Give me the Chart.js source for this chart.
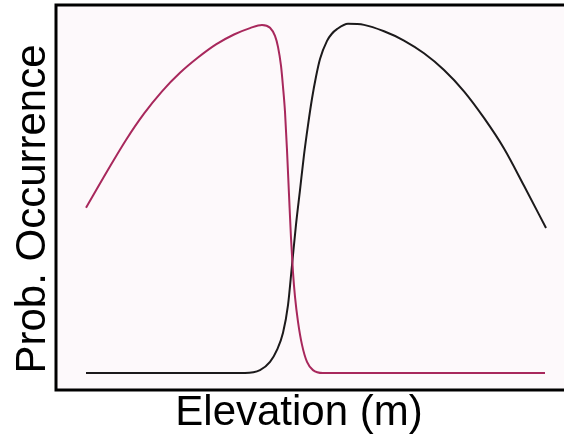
<!DOCTYPE html>
<html>
<head>
<meta charset="utf-8">
<script src="https://cdn.jsdelivr.net/npm/chart.js@4/dist/chart.umd.min.js"></script>
<style>
  html, body { margin: 0; padding: 0; background: #ffffff; }
  #wrap { width: 564px; height: 437px; position: relative; }
</style>
</head>
<body>
<div id="wrap"><canvas id="c" width="564" height="437"></canvas></div>
<script>
// Elevation positions (relative units, 0-100) and probabilities of occurrence
const lowSpeciesX = [5.91, 10.24, 13.78, 17.32, 20.87, 24.41, 27.95, 31.50, 35.04, 38.19, 40.55, 42.13, 43.11, 43.70, 44.29, 44.69, 45.08, 45.47, 45.87, 46.26, 46.65, 47.05, 47.64, 48.43, 49.41, 50.59, 52.56, 96.26];
const lowSpeciesY = [0.465, 0.572, 0.656, 0.730, 0.793, 0.845, 0.888, 0.925, 0.953, 0.971, 0.980, 0.972, 0.949, 0.918, 0.865, 0.805, 0.735, 0.628, 0.501, 0.380, 0.284, 0.214, 0.144, 0.079, 0.031, 0.008, 0.0, 0.0];

const highSpeciesX = [5.91, 37.20, 40.16, 42.13, 43.50, 44.69, 45.67, 46.46, 47.24, 48.03, 48.82, 49.61, 50.39, 51.18, 51.97, 53.35, 54.30, 55.31, 57.48, 60.63, 64.57, 68.50, 72.44, 76.38, 80.31, 84.25, 88.19, 92.13, 96.46];
const highSpeciesY = [0.0, 0.0, 0.008, 0.031, 0.065, 0.113, 0.191, 0.304, 0.417, 0.515, 0.614, 0.698, 0.772, 0.834, 0.884, 0.935, 0.955, 0.968, 0.983, 0.980, 0.962, 0.936, 0.900, 0.853, 0.793, 0.718, 0.632, 0.527, 0.408];

const xTitle = "Elevation (m)";
const yTitle = "Prob. Occurrence";

function toPoints(xs, ys) { return xs.map((x, i) => ({ x: x, y: ys[i] })); }

const framePlugin = {
  id: 'frame',
  beforeDraw(chart) {
    const { ctx, chartArea: a } = chart;
    ctx.save();
    ctx.fillStyle = '#ffffff';
    ctx.fillRect(0, 0, chart.width, chart.height);
    ctx.fillStyle = '#fdf9fb';
    ctx.fillRect(a.left, a.top, a.right - a.left, a.bottom - a.top);
    ctx.restore();
  },
  afterDraw(chart) {
    const { ctx, chartArea: a } = chart;
    ctx.save();
    ctx.strokeStyle = '#000000';
    ctx.lineWidth = 3;
    ctx.strokeRect(a.left, a.top, a.right - a.left + 4, a.bottom - a.top);
    ctx.fillStyle = '#000000';
    ctx.font = '42px "Liberation Sans", Arial, sans-serif';
    ctx.textAlign = 'center';
    ctx.textBaseline = 'alphabetic';
    ctx.fillText(xTitle, 299, 425);
    ctx.translate(45, 209);
    ctx.rotate(-Math.PI / 2);
    ctx.font = '42px "Liberation Sans", Arial, sans-serif';
    ctx.fillText(yTitle, 0, 0);
    ctx.restore();
  }
};

new Chart(document.getElementById('c'), {
  type: 'scatter',
  data: {
    datasets: [
      {
        label: 'Low elevation species',
        data: toPoints(lowSpeciesX, lowSpeciesY),
        showLine: true,
        borderColor: '#a8285c',
        borderWidth: 2,
        pointRadius: 0,
        cubicInterpolationMode: 'monotone',
        fill: false
      },
      {
        label: 'High elevation species',
        data: toPoints(highSpeciesX, highSpeciesY),
        showLine: true,
        borderColor: '#1c1a1b',
        borderWidth: 2,
        pointRadius: 0,
        cubicInterpolationMode: 'monotone',
        fill: false
      }
    ]
  },
  options: {
    responsive: false,
    animation: false,
    layout: { padding: { left: 56, top: 5, right: 0, bottom: 47 } },
    plugins: { legend: { display: false }, tooltip: { enabled: false } },
    scales: {
      x: { type: 'linear', display: false, min: 0, max: 100 },
      y: { type: 'linear', display: false, min: -0.048, max: 1.036 }
    }
  },
  plugins: [framePlugin]
});
</script>
</body>
</html>
